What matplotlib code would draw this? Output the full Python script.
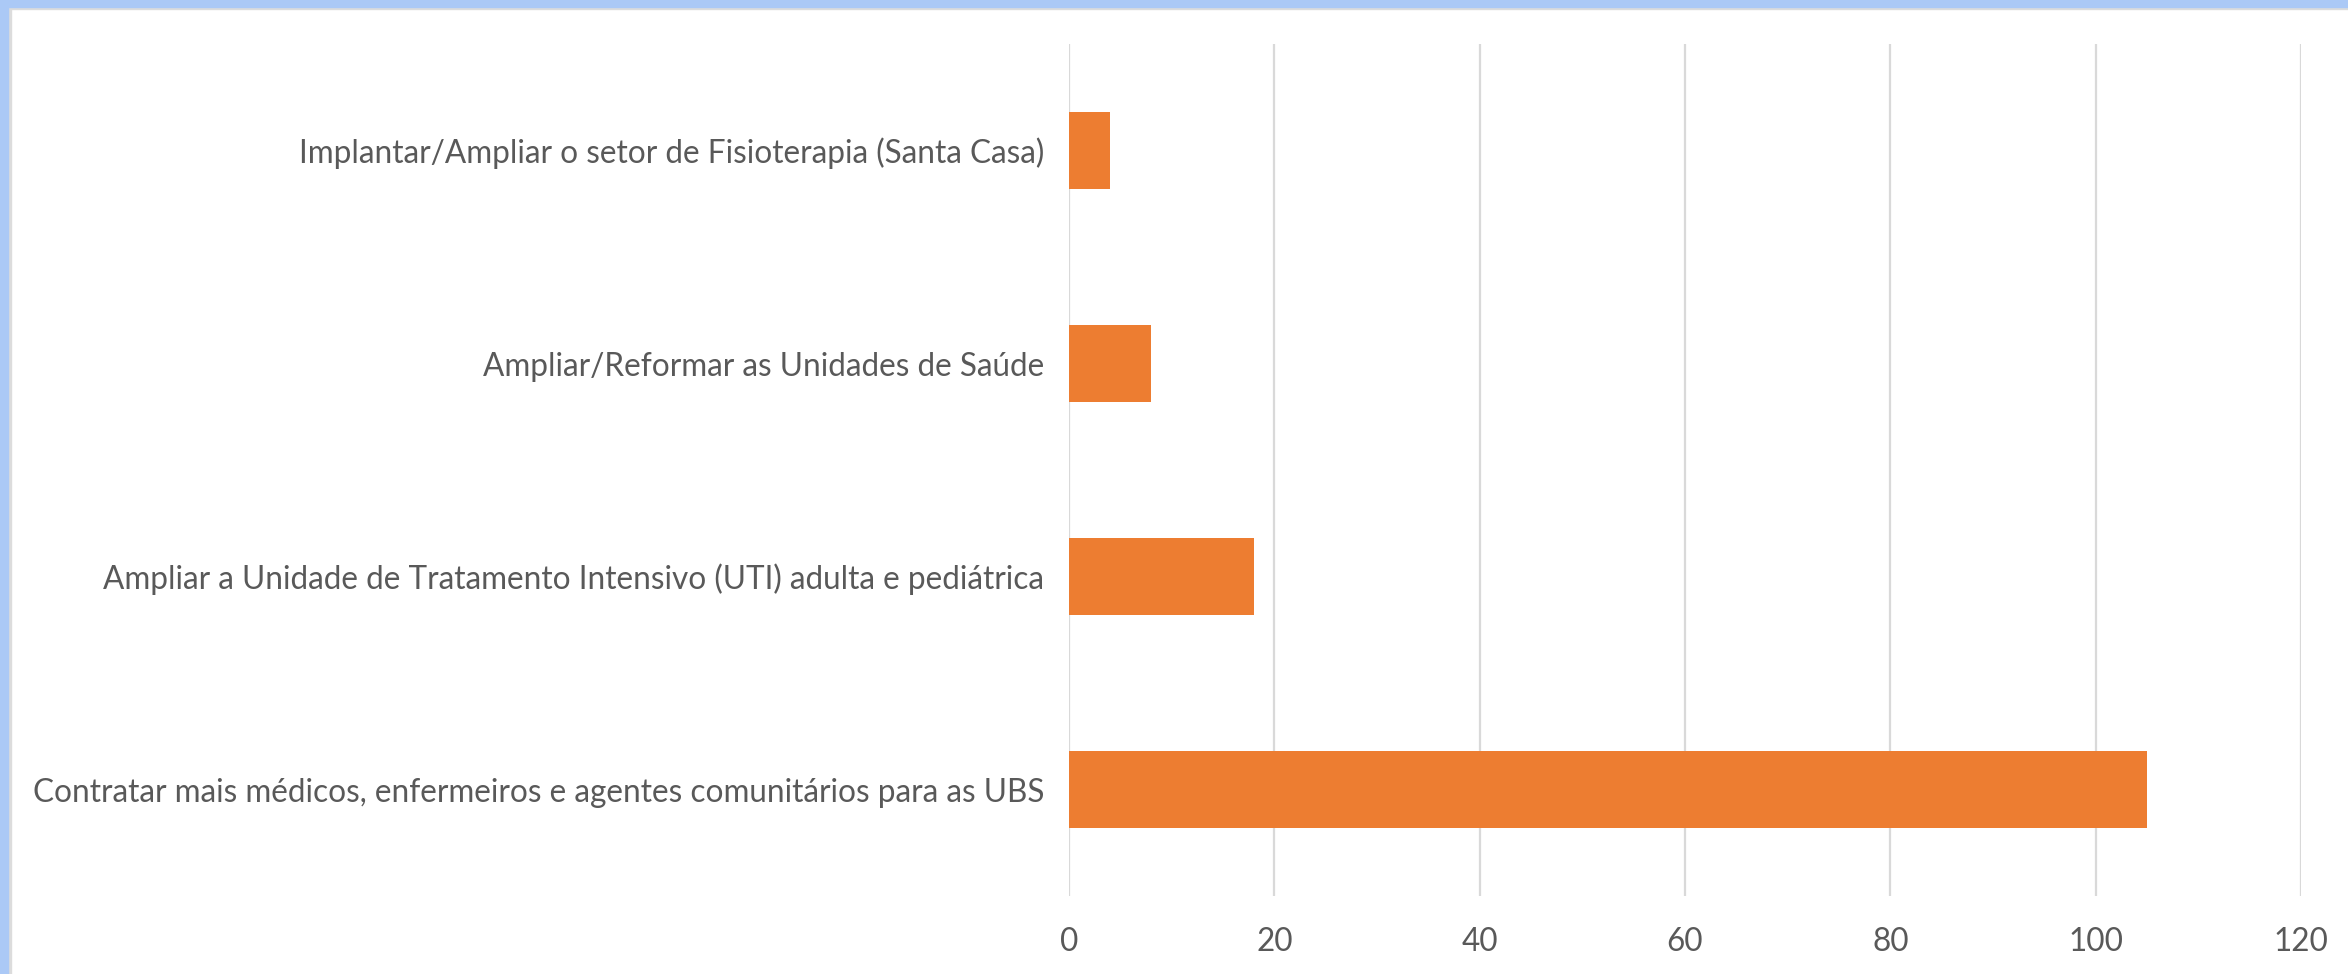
import matplotlib
matplotlib.use("Agg")
import matplotlib.pyplot as plt
from matplotlib.patches import Rectangle

categories = [
    "Contratar mais médicos, enfermeiros e agentes comunitários para as UBS",
    "Ampliar a Unidade de Tratamento Intensivo (UTI) adulta e pediátrica",
    "Ampliar/Reformar as Unidades de Saúde",
    "Implantar/Ampliar o setor de Fisioterapia (Santa Casa)",
]
values = [105, 18, 8, 4]
x_ticks = [0, 20, 40, 60, 80, 100, 120]

plt.rcParams["font.family"] = ["Lato", "DejaVu Sans"]

fig = plt.figure(figsize=(23.48, 9.74), dpi=100)
W, H = 2348, 974

# window frame (blue band top/left with a thin grey inner line)
fig.patches.append(Rectangle((0, 1 - 9 / H), 1, 9 / H, transform=fig.transFigure,
                             color="#dcdcdc", zorder=0))
fig.patches.append(Rectangle((0, 0), 11 / W, 1, transform=fig.transFigure,
                             color="#dcdcdc", zorder=0))
fig.patches.append(Rectangle((0, 1 - 7 / H), 1, 7 / H, transform=fig.transFigure,
                             color="#abc9f6", zorder=1))
fig.patches.append(Rectangle((0, 0), 8 / W, 1, transform=fig.transFigure,
                             color="#abc9f6", zorder=1))

ax = fig.add_axes([1069 / W, (H - 896) / H, (2301 - 1069) / W, (896 - 44) / H])

ax.barh(range(len(values)), values, height=0.357, color="#ed7d31", zorder=3)

ax.set_xlim(0, 120)
ax.set_ylim(-0.5, len(values) - 0.5)
ax.set_xticks(x_ticks)
ax.set_yticks(range(len(categories)))
ax.set_yticklabels(categories)

ax.grid(axis="x", color="#d9d9d9", linewidth=1.6, zorder=0)
for s in ax.spines.values():
    s.set_visible(False)

ax.tick_params(axis="both", length=0, colors="#595959", labelsize=22.7)
ax.tick_params(axis="y", pad=18)
ax.tick_params(axis="x", pad=22)

fig.savefig("out.png", dpi=100)
